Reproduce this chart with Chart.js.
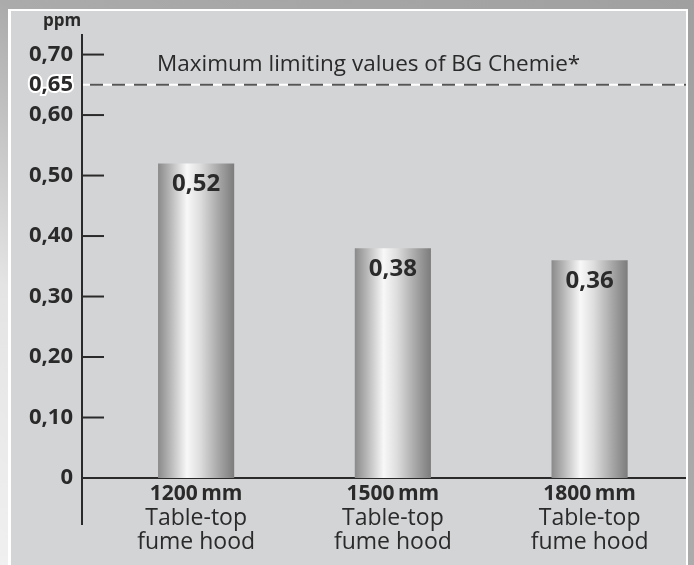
<!DOCTYPE html>
<html>
<head>
<meta charset="utf-8">
<script src="https://cdn.jsdelivr.net/npm/chart.js@4.4.1/dist/chart.umd.min.js"></script>
<style>
  body { margin: 0; }
  #frame { position: relative; width: 694px; height: 565px; overflow: hidden;
    background: linear-gradient(to top right, #f0f0f0 0%, #e4e4e4 25%, #ababab 50%, #a0a0a0 100%); }
  #panel { position: absolute; left: 8px; top: 9px; width: 675px; height: 600px;
    background: #d3d4d6; border-left: 3px solid #fff; border-top: 2px solid #fff; border-right: 2px solid #fff; }
  #wrap { position: absolute; left: 0; top: 0; width: 694px; height: 565px; }
</style>
</head>
<body>
<div id="frame">
  <div id="panel"></div>
  <div id="wrap"><canvas id="myChart"></canvas></div>
</div>
<script>
// data
const sizes = ['1200\u2009mm', '1500\u2009mm', '1800\u2009mm'];
const hoodType = [['Table-top', 'fume hood'], ['Table-top', 'fume hood'], ['Table-top', 'fume hood']];
const values = [0.52, 0.38, 0.36];
const yTicks = [0, 0.1, 0.2, 0.3, 0.4, 0.5, 0.6, 0.65, 0.7];
const limitValue = 0.65;
const limitText = 'Maximum limiting values of BG Chemie*';
const unit = 'ppm';

const barFrac = 0.387;
const ink = '#2a2a2a';

function fmt(v) {
  return v === 0 ? '0' : v.toFixed(2).replace('.', ',');
}

function barGradient(c) {
  const chart = c.chart;
  const xs = chart.scales.x;
  if (!chart.chartArea || !xs) return '#bbbbbb';
  const cx = xs.getPixelForValue(c.dataIndex);
  const half = (xs.getPixelForValue(1) - xs.getPixelForValue(0)) * barFrac / 2;
  const g = chart.ctx.createLinearGradient(cx - half, 0, cx + half, 0);
  g.addColorStop(0, '#8a8a8a');
  g.addColorStop(0.15, '#b4b4b4');
  g.addColorStop(0.38, '#f8f8f8');
  g.addColorStop(0.55, '#dedede');
  g.addColorStop(0.8, '#a6a6a6');
  g.addColorStop(1, '#7c7c7c');
  return g;
}

// axis lines, tick marks, limit line, texts
const decor = {
  id: 'decor',
  beforeDatasetsDraw(chart) {
    const ctx = chart.ctx, a = chart.chartArea, y = chart.scales.y;
    ctx.save();
    // limit line
    const ly = y.getPixelForValue(limitValue);
    ctx.strokeStyle = '#ffffff';
    ctx.lineWidth = 2;
    ctx.beginPath(); ctx.moveTo(a.left, ly); ctx.lineTo(a.right, ly); ctx.stroke();
    ctx.strokeStyle = '#555555';
    ctx.setLineDash([13, 9]);
    ctx.beginPath(); ctx.moveTo(a.left + 8, ly); ctx.lineTo(a.right, ly); ctx.stroke();
    ctx.setLineDash([]);
    // tick marks pointing inward
    ctx.strokeStyle = ink;
    ctx.lineWidth = 2;
    yTicks.forEach(function (v) {
      if (v === 0 || v === limitValue) return;
      const py = y.getPixelForValue(v);
      ctx.beginPath(); ctx.moveTo(a.left, py); ctx.lineTo(a.left + 22, py); ctx.stroke();
    });
    // zero line
    const zy = y.getPixelForValue(0);
    ctx.beginPath(); ctx.moveTo(a.left, zy); ctx.lineTo(a.right, zy); ctx.stroke();
    // y axis
    ctx.beginPath(); ctx.moveTo(a.left, a.top); ctx.lineTo(a.left, a.bottom + 47); ctx.stroke();
    // texts
    ctx.fillStyle = ink;
    ctx.textBaseline = 'middle';
    ctx.textAlign = 'center';
    ctx.font = 'bold 17px "Open Sans"';
    ctx.fillText(unit, 62, 21);
    ctx.textAlign = 'left';
    ctx.font = '22.5px "Open Sans"';
    ctx.fillText(limitText, 157, 65);
    ctx.restore();
  },
  afterDatasetsDraw(chart) {
    const ctx = chart.ctx;
    ctx.save();
    ctx.fillStyle = ink;
    ctx.textAlign = 'center';
    ctx.textBaseline = 'middle';
    ctx.font = 'bold 24px "Open Sans"';
    chart.getDatasetMeta(0).data.forEach(function (bar, i) {
      ctx.fillText(fmt(values[i]), bar.x, bar.y + 21);
    });
    ctx.restore();
  }
};

const xRange = { type: 'linear', min: -0.58, max: 2.49, offset: false };

new Chart(document.getElementById('myChart'), {
  type: 'bar',
  data: {
    datasets: [{
      data: values.map(function (v, i) { return { x: i, y: v }; }),
      backgroundColor: barGradient,
      borderWidth: 0,
      barPercentage: 1,
      categoryPercentage: barFrac
    }]
  },
  options: {
    responsive: true,
    maintainAspectRatio: false,
    animation: false,
    layout: { padding: { left: 0, right: 8, top: 34, bottom: 0 } },
    plugins: { legend: { display: false }, tooltip: { enabled: false } },
    scales: {
      x: Object.assign({}, xRange, {
        position: 'bottom',
        grid: { display: false, drawTicks: false, offset: false },
        border: { display: false },
        afterBuildTicks: function (s) { s.ticks = sizes.map(function (c, i) { return { value: i }; }); },
        afterFit: function (s) { s.height = 30; },
        ticks: {
          callback: function (v) { return sizes[v]; },
          color: ink,
          font: { family: 'Open Sans', size: 21, weight: 'bold', lineHeight: '23px' },
          padding: 5,
          maxRotation: 0,
          autoSkip: false
        }
      }),
      x2: Object.assign({}, xRange, {
        position: 'bottom',
        grid: { display: false, drawTicks: false, offset: false },
        border: { display: false },
        afterBuildTicks: function (s) { s.ticks = hoodType.map(function (c, i) { return { value: i }; }); },
        afterFit: function (s) { s.height = 57; },
        ticks: {
          callback: function (v) { return hoodType[v]; },
          color: ink,
          font: { family: 'Open Sans', size: 23, lineHeight: '24px' },
          padding: -2,
          maxRotation: 0,
          autoSkip: false
        }
      }),
      y: {
        min: 0,
        max: 0.734,
        grid: { display: false, drawTicks: false },
        border: { display: false },
        afterBuildTicks: function (s) { s.ticks = yTicks.map(function (v) { return { value: v }; }); },
        afterFit: function (s) { s.width = 82; },
        ticks: {
          callback: function (v) { return fmt(v); },
          color: ink,
          font: { family: 'Open Sans', size: 22, weight: 'bold' },
          padding: 9,
          textStrokeColor: function (c) { return c.tick && c.tick.value === limitValue ? '#ffffff' : 'rgba(0,0,0,0)'; },
          textStrokeWidth: function (c) { return c.tick && c.tick.value === limitValue ? 4 : 0; }
        }
      }
    }
  },
  plugins: [decor]
});
</script>
</body>
</html>
